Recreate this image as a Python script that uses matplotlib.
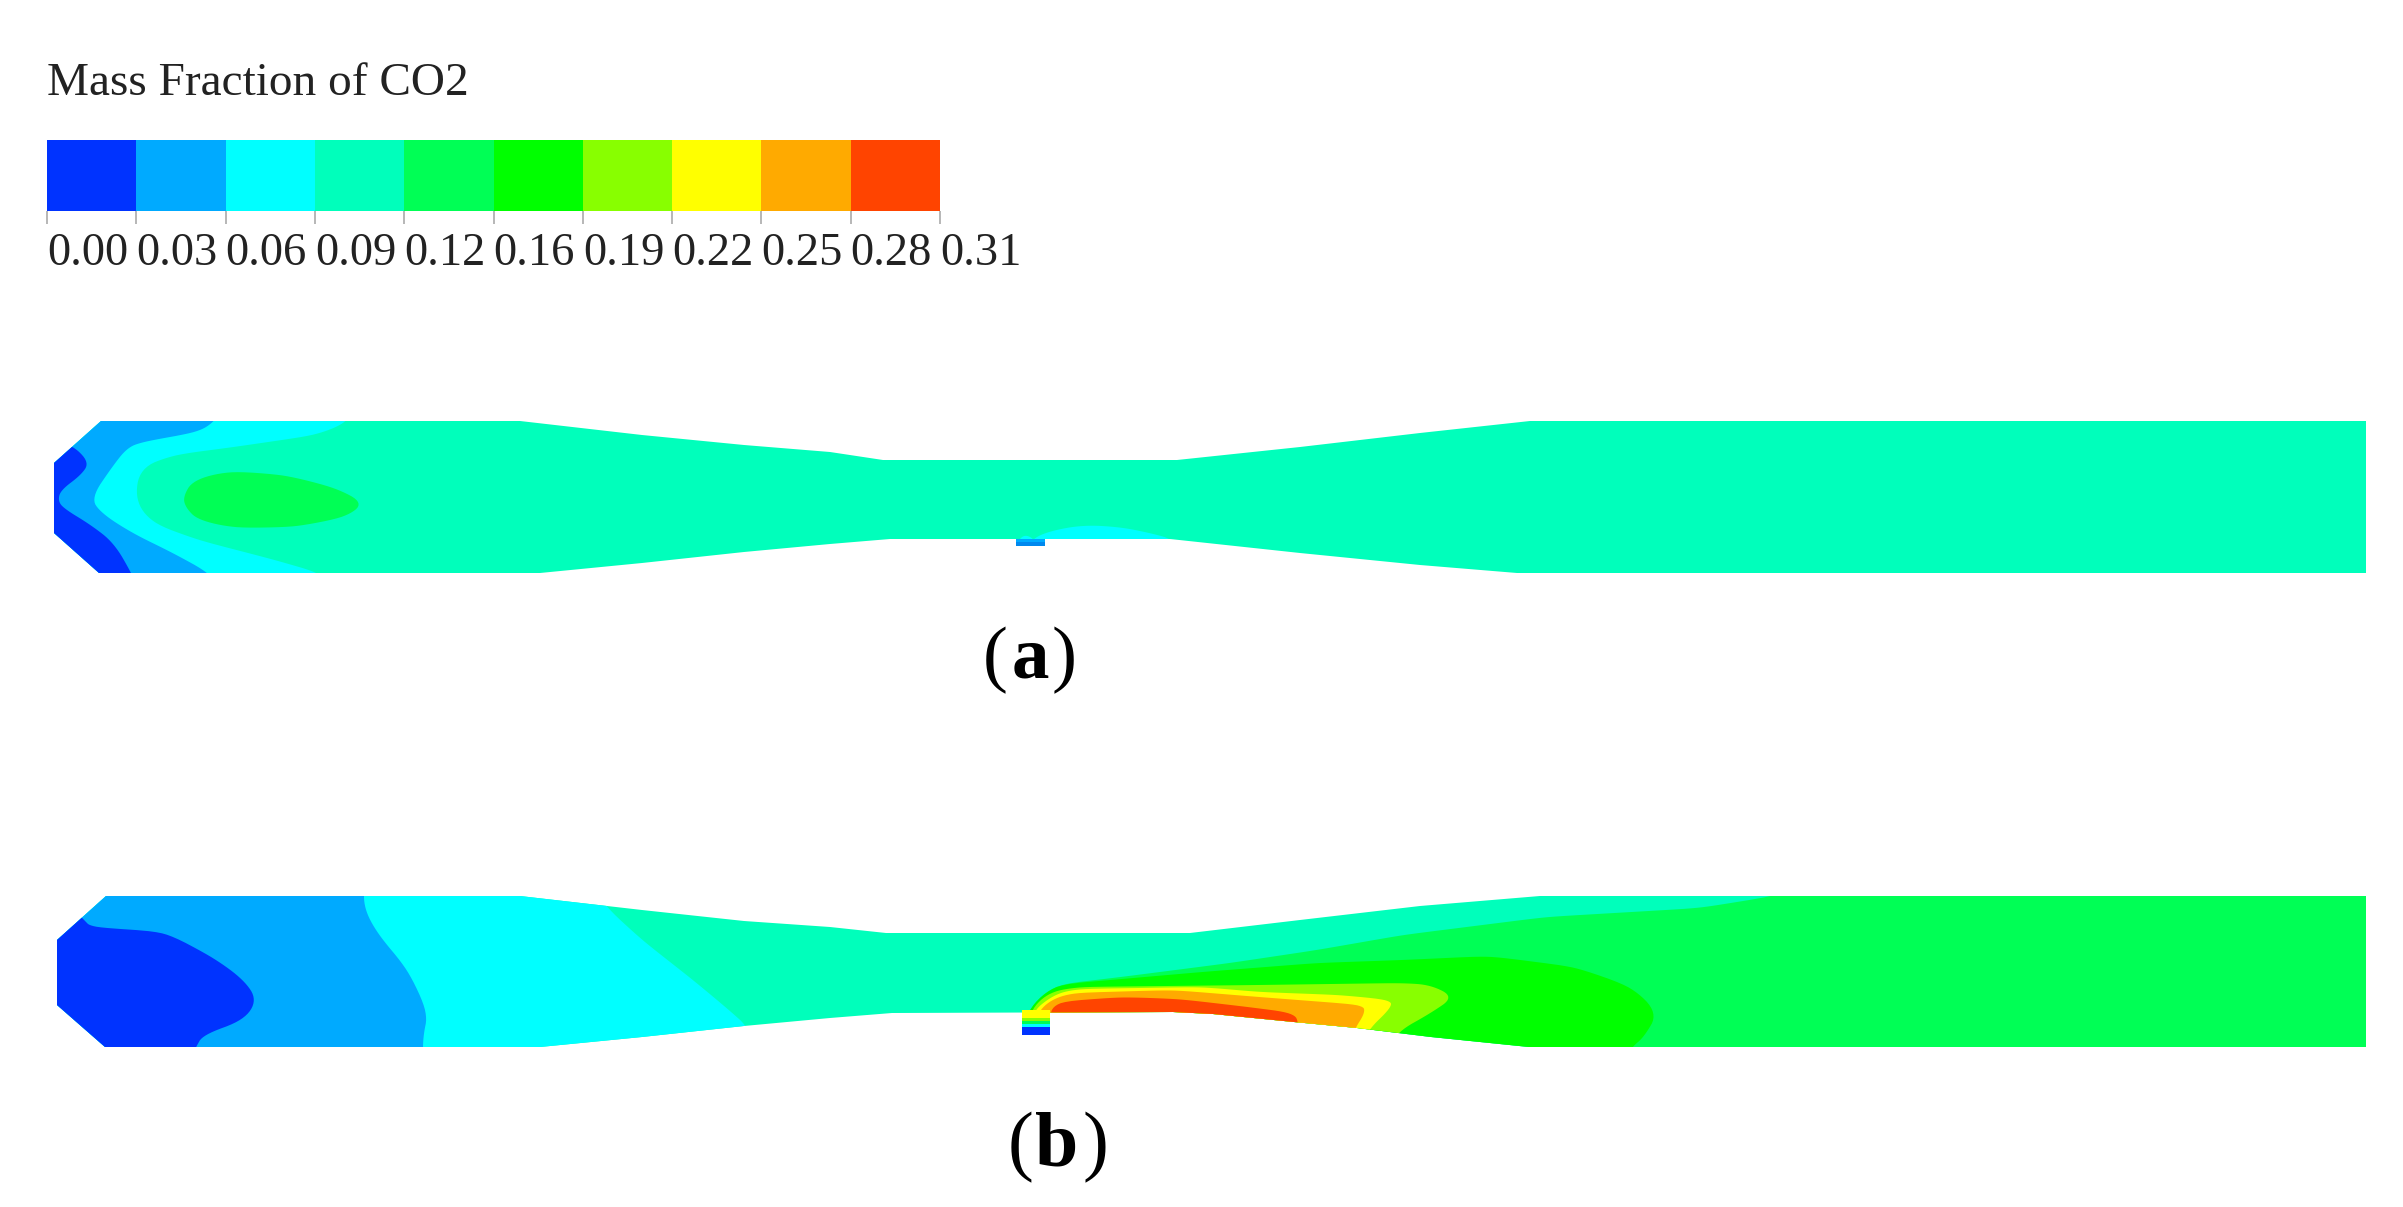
# plot.py
# CO2 mass fraction contours in a venturi: no injection (a) and with injection (b).

import matplotlib
matplotlib.use('Agg')
import numpy as np
import matplotlib.pyplot as plt
from matplotlib.patches import Polygon

W, H = 2403, 1207

LEVEL_LABELS = ['0.00', '0.03', '0.06', '0.09', '0.12', '0.16', '0.19', '0.22', '0.25', '0.28', '0.31']
LEVEL_COLORS = ['#0033FF', '#00AAFF', '#00FFFF', '#00FFBB', '#00FF55',
                '#00FF00', '#88FF00', '#FFFF00', '#FFAA00', '#FF4400']
BLUE, SKY, CYAN, TEAL, SPRING, GREEN, LIME, YELLOW, ORANGE, RED = LEVEL_COLORS

OUTLINE_A = [(101, 421), (520, 421), (642, 435), (744, 445), (830, 452), (883, 460), (1177, 460),
             (1300, 447), (1420, 433), (1530, 421), (2366, 421), (2366, 573), (1517, 573),
             (1420, 565), (1300, 553), (1170, 539), (890, 539), (830, 544), (744, 552),
             (642, 563), (540, 573), (99, 573), (54, 533), (54, 463)]
CYAN_A = [(352, 410), (346, 423), (316, 435), (234, 447), (173, 455), (140, 468), (135, 500), (152, 523),
          (198, 540), (275, 560), (323, 574), (330, 590), (30, 590), (30, 410)]
SKY_A = [(220, 410), (214, 422), (198, 432), (142, 442), (127, 448), (112, 467), (91, 498), (101, 513),
         (132, 533), (173, 553), (211, 574), (218, 590), (30, 590), (30, 410)]
BLUE_A = [(60, 442), (76, 448), (89, 463), (81, 475), (61, 490), (58, 500), (63, 508),
          (91, 525), (114, 543), (132, 574), (138, 590), (30, 590), (30, 442)]
SPRING_A = [(183, 497), (193, 480), (229, 471), (285, 475), (336, 488), (364, 503), (346, 517),
            (295, 527), (234, 528), (198, 520), (186, 508)]
BUMP_A = [(1028, 550), (1032, 539), (1050, 531), (1083, 525), (1120, 527), (1150, 533), (1172, 539), (1180, 550)]
NOZZLE_A = [(1014, 550), (1020, 538), (1026, 535), (1034, 539), (1036, 550)]

OUTLINE_B = [(106, 896), (520, 896), (642, 910), (744, 921), (830, 927), (886, 933), (1190, 933),
             (1300, 920), (1420, 906), (1540, 896), (2366, 896), (2366, 1047), (1529, 1047),
             (1431, 1037), (1357, 1028), (1294, 1022), (1213, 1014), (1173, 1012), (892, 1013),
             (830, 1018), (744, 1026), (642, 1037), (540, 1047), (105, 1047), (57, 1005), (57, 940)]
CYAN_B = [(596, 885), (604, 905), (642, 940), (693, 980), (729, 1010), (749, 1028), (760, 1060),
          (30, 1060), (30, 885)]
SKY_B = [(364, 885), (364, 908), (377, 933), (408, 970), (428, 1013), (423, 1037), (423, 1060),
         (30, 1060), (30, 885)]
BLUE_B = [(70, 905), (84, 920), (91, 927), (165, 932), (214, 958), (244, 980), (257, 1000), (244, 1020),
          (203, 1035), (196, 1047), (190, 1060), (30, 1060), (30, 905)]
SPRING_B = [(1024, 1014), (1053, 985), (1121, 977), (1230, 963), (1317, 950), (1403, 935), (1546, 917),
            (1700, 908), (1780, 895), (1800, 880), (2380, 880), (2380, 1060), (1024, 1060)]
GREEN_B = [(1024, 1014), (1053, 985), (1202, 972), (1317, 963), (1403, 960), (1489, 956), (1575, 967),
           (1632, 987), (1658, 1013), (1644, 1037), (1632, 1047), (1625, 1060), (1024, 1060)]
LIME_B = [(1028, 1014), (1047, 993), (1076, 987), (1259, 985), (1403, 983), (1431, 985), (1454, 997),
          (1431, 1013), (1397, 1032), (1390, 1050), (1028, 1050)]
YELLOW_B = [(1030, 1014), (1053, 995), (1076, 989), (1202, 987), (1259, 992), (1340, 995), (1391, 1000),
            (1391, 1008), (1368, 1030), (1360, 1050), (1030, 1050)]
ORANGE_B = [(1035, 1018), (1047, 1002), (1070, 993), (1173, 990), (1259, 997), (1363, 1005), (1365, 1013),
            (1354, 1030), (1350, 1050), (1035, 1050)]
RED_B = [(1048, 1020), (1055, 1002), (1121, 997), (1179, 999), (1248, 1007), (1294, 1013), (1299, 1024),
         (1294, 1040), (1048, 1040)]
# Inlet stubs under the wall: colour, top and bottom rows
STUB_X_A = (1016, 1045)
STUB_BANDS_A = [(SKY, 539, 542), ('#0088EE', 542, 546)]
STUB_X_B = (1022, 1050)
STUB_BANDS_B = [(YELLOW, 1010, 1018), (LIME, 1018, 1021), (SPRING, 1021, 1024), (CYAN, 1024, 1027), (BLUE, 1027, 1035)]


def round_corners(points, passes=3, cut=10):
    """Cuts polygon corners a few times so traced contours look smooth."""
    pts = np.array(points, dtype=float)
    for _ in range(passes):
        nxt = np.roll(pts, -1, axis=0)
        length = np.hypot(*(nxt - pts).T)
        frac = np.minimum(0.25, cut / length)[:, None]
        pts = np.stack([pts + frac * (nxt - pts), nxt - frac * (nxt - pts)], axis=1).reshape(-1, 2)
    return pts


def draw_venturi(ax, outline, layers):
    """Fills the outline with the base level and clips the other levels to it."""
    base = Polygon(outline, closed=True, facecolor=TEAL, edgecolor='none', zorder=2)
    ax.add_patch(base)
    for i, (points, color) in enumerate(layers):
        patch = Polygon(round_corners(points), closed=True, facecolor=color, edgecolor='none', zorder=3 + i)
        ax.add_patch(patch)
        patch.set_clip_path(base)


plt.rcParams['font.family'] = ['Liberation Serif', 'DejaVu Serif']
fig = plt.figure(figsize=(W / 100, H / 100), dpi=100)
ax = fig.add_axes([0, 0, 1, 1])
ax.set_xlim(0, W)
ax.set_ylim(H, 0)
ax.axis('off')

# Colour bar, ticks sit evenly even though the levels do not
bar = fig.add_axes([47 / W, 1 - 211 / H, (940 - 47) / W, (211 - 140) / H])
bar.bar(range(len(LEVEL_COLORS)), [1] * len(LEVEL_COLORS), width=1, align='edge', color=LEVEL_COLORS)
bar.set_xlim(0, len(LEVEL_COLORS))
bar.set_ylim(0, 1)
bar.set_yticks([])
bar.set_xticks(range(len(LEVEL_LABELS)))
bar.set_xticklabels(LEVEL_LABELS, fontsize=33.5, color='#222222')
bar.tick_params(axis='x', length=9.5, width=1.2, color='#aaaaaa', pad=6)
for label in bar.get_xticklabels():
    label.set_ha('left')
for spine in bar.spines.values():
    spine.set_visible(False)

ax.text(47, 95, 'Mass Fraction of CO2', fontsize=34, color='#222222', ha='left', va='baseline')

for color, top, bottom in STUB_BANDS_A:
    ax.fill_between(STUB_X_A, top, bottom, color=color, lw=0, zorder=1)
draw_venturi(ax, OUTLINE_A, [(CYAN_A, CYAN), (SKY_A, SKY), (BLUE_A, BLUE), (SPRING_A, SPRING),
                             (BUMP_A, CYAN), (NOZZLE_A, CYAN)])

draw_venturi(ax, OUTLINE_B, [(CYAN_B, CYAN), (SKY_B, SKY), (BLUE_B, BLUE), (SPRING_B, SPRING),
                             (GREEN_B, GREEN), (LIME_B, LIME), (YELLOW_B, YELLOW),
                             (ORANGE_B, ORANGE), (RED_B, RED)])
for color, top, bottom in STUB_BANDS_B:
    ax.fill_between(STUB_X_B, top, bottom, color=color, lw=0, zorder=20)

# Panel labels: regular brackets with a bold letter
ax.text(995, 678, '(', fontsize=54, ha='center', va='baseline')
ax.text(1030, 678, 'a', fontsize=54, fontweight='bold', ha='center', va='baseline')
ax.text(1064, 678, ')', fontsize=54, ha='center', va='baseline')
ax.text(1021, 1166, '(', fontsize=56, ha='center', va='baseline')
ax.text(1057, 1166, 'b', fontsize=56, fontweight='bold', ha='center', va='baseline')
ax.text(1095, 1166, ')', fontsize=56, ha='center', va='baseline')

fig.savefig('out.png', dpi=100, facecolor='white')
